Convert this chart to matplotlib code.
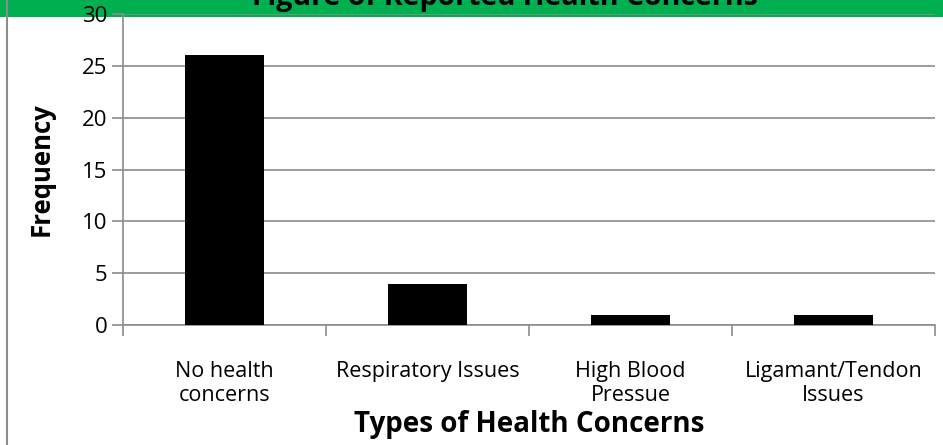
import matplotlib
matplotlib.use("Agg")
import matplotlib.pyplot as plt
from matplotlib.patches import Rectangle
from matplotlib.lines import Line2D

categories = ["No health\nconcerns", "Respiratory Issues", "High Blood\nPressue", "Ligamant/Tendon\nIssues"]
values = [26, 4, 1, 1]
yticks = [0, 5, 10, 15, 20, 25, 30]

plt.rcParams['font.family'] = ['Open Sans', 'DejaVu Sans']

W, H = 943, 445
fig = plt.figure(figsize=(W/100, H/100), dpi=100)

# green title band
band = Rectangle((0, 1 - 17/H), 1, 17/H, transform=fig.transFigure,
                 facecolor="#00B050", edgecolor="none", zorder=-5)
fig.add_artist(band)
fig.text(505/W, 1 - 5/H, "Figure of Reported Health Concerns", ha="center", va="baseline",
         fontsize=20.5, fontweight="bold", color="black", zorder=-4)
# left frame line
fig.add_artist(Line2D([7/W, 7/W], [0, 1], transform=fig.transFigure, color="#8c8c8c", lw=1.5))

left, right, top, bottom = 123, 935, 14, 325
ax = fig.add_axes([left/W, 1 - bottom/H, (right-left)/W, (bottom-top)/H])
ax.set_zorder(2)
ax.patch.set_alpha(0)

x = range(len(values))
ax.bar(x, values, width=0.39, color="black", zorder=3)
ax.set_xlim(-0.5, len(values) - 0.5)
ax.set_ylim(0, 30)
ax.set_yticks(yticks)
ax.grid(axis="y", color="#8c8c8c", lw=1.2, zorder=0)
for s in ["top", "right"]:
    ax.spines[s].set_visible(False)
for s in ["left", "bottom"]:
    ax.spines[s].set_color("#8c8c8c")
    ax.spines[s].set_linewidth(1.2)
ax.tick_params(axis="y", length=8, color="#8c8c8c", width=1.2, labelsize=16, pad=3)
ax.set_xticks([i - 0.5 for i in range(len(values) + 1)], minor=False)
ax.set_xticklabels([])
ax.tick_params(axis="x", which="major", length=8, color="#8c8c8c", width=1.2)
ax.set_xticks(list(x), minor=True)
ax.set_xticklabels(categories, minor=True, fontsize=15.5, linespacing=1.15)
ax.tick_params(axis="x", which="minor", length=0, pad=26)
ax.set_xlabel("Types of Health Concerns", fontsize=20, fontweight="bold", labelpad=3)
ax.set_ylabel("Frequency", fontsize=18.5, fontweight="bold", labelpad=20)

fig.savefig("out.png", dpi=100)
